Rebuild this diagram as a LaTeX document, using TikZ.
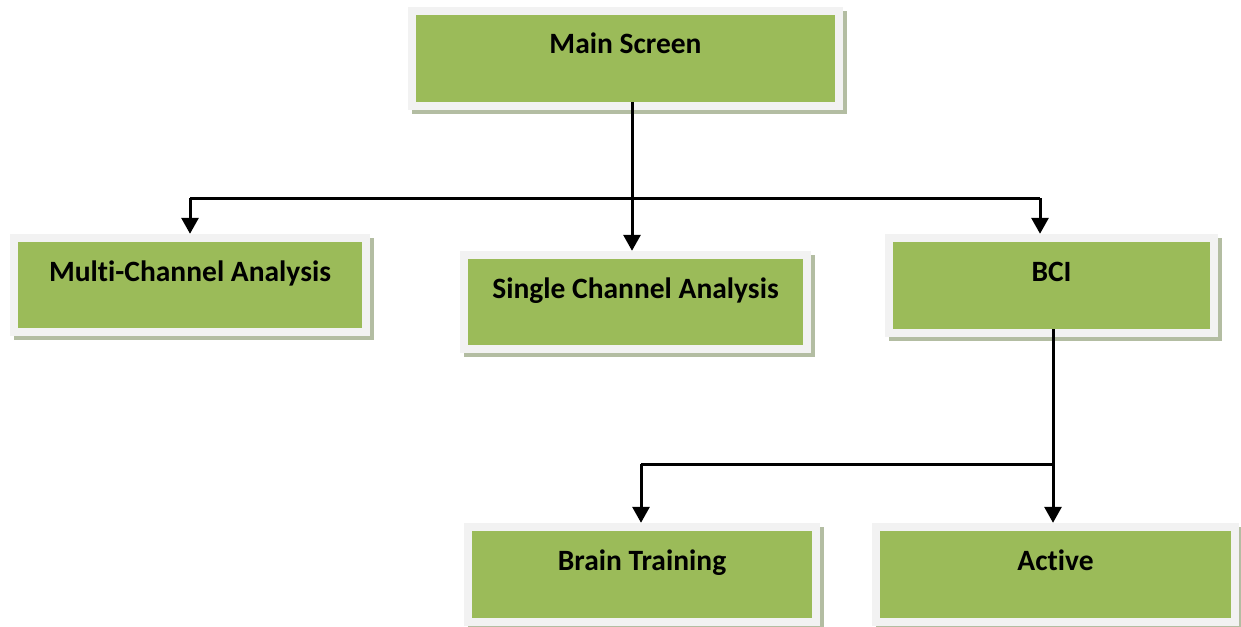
\documentclass[tikz,border=0pt]{standalone}
\usepackage{fontspec}
\setmainfont{Carlito}[Ligatures=NoCommon]
\usetikzlibrary{arrows.meta,shadows}
\definecolor{boxgreen}{HTML}{9BBB59}
\definecolor{boxframe}{HTML}{F2F2F2}
\definecolor{boxshadow}{HTML}{B3BDA2}
\tikzset{
  frame/.style={fill=boxframe, inner sep=0pt, draw=none,
    drop shadow={shadow xshift=4pt, shadow yshift=-4pt, fill=boxshadow, opacity=1}},
  greenbox/.style={fill=boxgreen, inner xsep=0pt, inner ysep=0pt, draw=none,
    font=\bfseries\fontsize{29.5pt}{32pt}\selectfont, text height=39pt},
  ln/.style={line width=3pt, draw=black},
  arr/.style={ln, -{Triangle[width=17pt,length=16pt]}},
}
\newcommand{\flowbox}[6]{%
  \node[frame, minimum width=#4pt+16pt, minimum height=#5pt+16pt] (#1F) at (#2,#3) {};
  \node[greenbox, minimum width=#4pt, minimum height=#5pt, text depth=#5pt-39pt] (#1) at (#2,#3) {#6};
}
\begin{document}
\begin{tikzpicture}[x=1pt,y=-1pt]
\useasboundingbox[fill=white] (0,0) rectangle (1241,626);
\flowbox{main}{625.5}{58.5}{419}{87}{Main Screen}
\flowbox{multi}{190}{285}{344}{86}{Multi-Channel Analysis}
\flowbox{single}{635.5}{302}{335}{86}{Single Channel Analysis}
\flowbox{bci}{1051.5}{285.5}{317}{87}{BCI}
\flowbox{brain}{642}{574.5}{340}{87}{Brain Training}
\flowbox{active}{1055.5}{574.5}{351}{87}{Active}
\coordinate (j1) at (632,198);
\coordinate (jl) at (190,198);
\coordinate (jr) at (1040,198);
\coordinate (k1) at (1053,464);
\coordinate (kl) at (641,464);
\draw[arr] (main.south -| j1) -- (singleF.north -| j1);
\draw[ln] (jl) -- (jr);
\draw[arr] (jl) -- (multiF.north -| jl);
\draw[arr] (jr) -- (bciF.north -| jr);
\draw[arr] (bci.south -| k1) -- (activeF.north -| k1);
\draw[ln] (kl) -- (k1);
\draw[arr] (kl) -- (brainF.north -| kl);
\end{tikzpicture}
\end{document}
